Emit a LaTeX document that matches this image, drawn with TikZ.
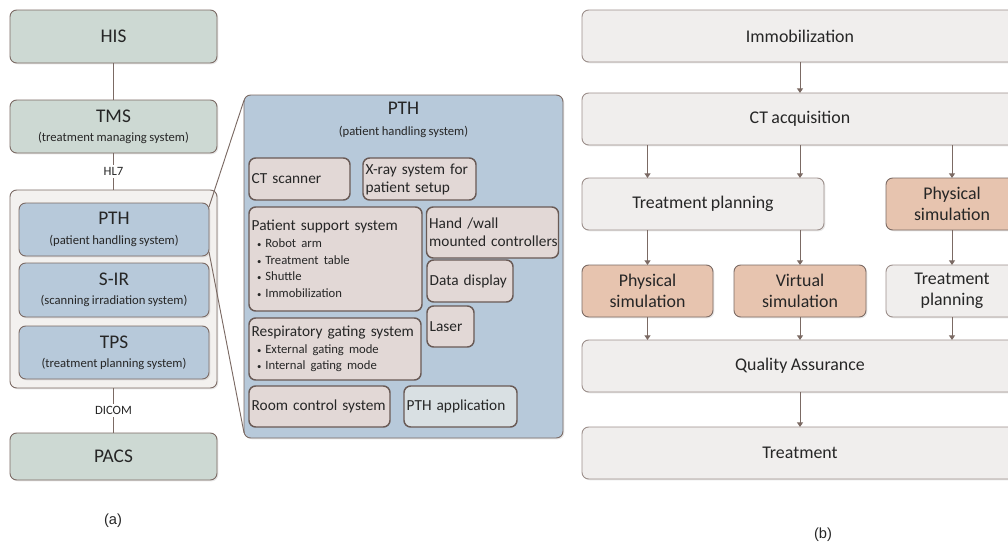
\documentclass[tikz,border=0pt]{standalone}
\usepackage{fontspec}
\setmainfont{Carlito}[WordSpace=0.85]
\newfontfamily\capfont{Liberation Sans}
\usetikzlibrary{arrows.meta, calc, shadows}

\definecolor{grnfill}{HTML}{CDD9D3}
\definecolor{grpfill}{HTML}{F3F1EF}
\definecolor{bluefill}{HTML}{B7C9DA}
\definecolor{partfill}{HTML}{E2D8D6}
\definecolor{appfill}{HTML}{D9E0E3}
\definecolor{flowfill}{HTML}{F0EEED}
\definecolor{simfill}{HTML}{E7C4AF}
\definecolor{edge}{HTML}{7B6A64}

\newcommand{\sysname}[2]{#1\\[-1.5pt]{\fontsize{9.5}{11}\selectfont #2}}
\newcommand{\itm}[1]{\\[-1pt]{\fontsize{9.5}{12}\selectfont\hspace*{4pt}{\fontsize{6.5}{7}\selectfont\textbullet}\hspace{3pt}#1}}

\begin{document}
\begin{tikzpicture}[x=0.75pt, y=-0.75pt, >={Triangle[length=3.5pt, width=4.5pt]},
  every node/.style={inner sep=0pt, outer sep=0pt, text=black!85},
  sz/.style 2 args={minimum width=#1*0.75pt, minimum height=#2*0.75pt},
  shd/.style={drop shadow={opacity=0.18, shadow xshift=1pt, shadow yshift=-1pt}},
  sysbox/.style={draw=edge, line width=0.7pt, rounded corners=5pt, shd, align=center, font=\fontsize{14.5}{16}\selectfont},
  grnbox/.style={sysbox, fill=grnfill},
  bluebox/.style={sysbox, fill=bluefill},
  partbox/.style 2 args={draw=edge!85!black, line width=1.1pt, rounded corners=5pt, fill=partfill, sz={#1}{#2}, text width=#1*0.75pt-4pt, inner xsep=2pt, align=left, font=\fontsize{11.5}{13.5}\selectfont},
  flowbox/.style={draw=edge!75, line width=0.7pt, rounded corners=5pt, fill=flowfill, shd, align=center, font=\fontsize{13.4}{15.5}\selectfont},
  simbox/.style={flowbox, fill=simfill, draw=edge},
  link/.style={draw=edge, line width=0.7pt},
  flow/.style={link, ->},
  sub/.style={font=\fontsize{9.5}{11}\selectfont}
]
\useasboundingbox (0,0) rectangle (1008,546);

\node[grnbox, sz={207}{53}] (his) at (113.5,36.5) {HIS};
\node[grnbox, sz={207}{53}] (tms) at (113.5,126.5) {\sysname{TMS}{(treatment managing system)}};
\node[sysbox, fill=grpfill, sz={207}{198}] (grp) at (113.5,289) {};
\node[bluebox, sz={190}{53}] (pth) at (114,229.5) {\sysname{PTH}{(patient handling system)}};
\node[bluebox, sz={190}{54}] (sir) at (114,290) {\sysname{S-IR}{(scanning irradiation system)}};
\node[bluebox, sz={190}{53}] (tps) at (114,352.5) {\sysname{TPS}{(treatment planning system)}};
\node[grnbox, sz={207}{47}] (pacs) at (113.5,456.5) {PACS};
\draw[link] (his) -- (tms);
\draw[link] (tms) -- (grp) node[midway, fill=white, inner sep=2pt, sub] (hl) {HL7};
\draw[link] (grp) -- (pacs) node[midway, fill=white, inner sep=2pt, sub] (dicom) {DICOM};

\node[bluebox, sz={319}{343}] (pthbig) at (403.5,266.5) {};
\node[font=\fontsize{14.5}{16}\selectfont] (pthtitle) at (403.5,108) {PTH};
\node[sub] (pthsub) at (403.5,132) {(patient handling system)};
\draw[link] ([yshift=-3pt]pth.north east) -- ([yshift=-4pt]pthbig.north west);
\draw[link] ([yshift=3pt]pth.south east) -- ([yshift=4pt]pthbig.south west);

\node[partbox={101}{42}] (ct) at (299.5,179) {CT scanner};
\node[partbox={113}{42}] (xray) at (419.5,179) {X-ray system for\\patient setup};
\node[partbox={173}{104}] (pss) at (335.5,259) {Patient support system\itm{Robot arm}\itm{Treatment table}\itm{Shuttle}\itm{Immobilization}};
\node[partbox={132}{51}] (hand) at (492.5,232.5) {Hand /wall\\\mbox{mounted controllers}};
\node[partbox={86}{42}] (disp) at (470,281) {Data display};
\node[partbox={47}{41}] (laser) at (450.5,326.5) {Laser};
\node[partbox={172}{62}] (resp) at (335,349) {\mbox{Respiratory gating system}\itm{External gating mode}\itm{Internal gating mode}};
\node[partbox={141}{41}] (room) at (319.5,406.5) {Room control system};
\node[partbox={113}{41}, fill=appfill] (app) at (460.5,406.5) {PTH application};

\node[flowbox, sz={436}{52}] (immob) at (800,36) {Immobilization};
\node[flowbox, sz={436}{52}] (ctacq) at (800,119) {CT acquisition};
\node[flowbox, sz={242}{52}] (plan1) at (703,204) {Treatment planning};
\node[simbox, sz={132}{52}] (phys1) at (952,204) {Physical\\simulation};
\node[simbox, sz={131}{52}] (phys2) at (647.5,291) {Physical\\simulation};
\node[simbox, sz={132}{52}] (virt) at (800,291) {Virtual\\simulation};
\node[flowbox, sz={132}{52}] (plan2) at (952,291) {Treatment\\planning};
\node[flowbox, sz={436}{52}] (qa) at (800,366) {Quality Assurance};
\node[flowbox, sz={436}{52}] (treat) at (800,453) {Treatment};
\draw[flow] (immob) -- (ctacq);
\draw[flow] (ctacq.south -| phys2) -- (plan1.north -| phys2);
\draw[flow] (ctacq.south -| virt) -- (plan1.north -| virt);
\draw[flow] (ctacq.south -| phys1) -- (phys1);
\draw[flow] (plan1.south -| phys2) -- (phys2);
\draw[flow] (plan1.south -| virt) -- (virt);
\draw[flow] (phys1) -- (plan2);
\draw[flow] (phys2) -- (qa.north -| phys2);
\draw[flow] (virt) -- (qa.north -| virt);
\draw[flow] (plan2) -- (qa.north -| plan2);
\draw[flow] (qa) -- (treat);

\node[font=\capfont\fontsize{11}{13}\selectfont] (capa) at (113,521) {(a)};
\node[font=\capfont\fontsize{11}{13}\selectfont] (capb) at (823,535) {(b)};
\end{tikzpicture}
\end{document}
